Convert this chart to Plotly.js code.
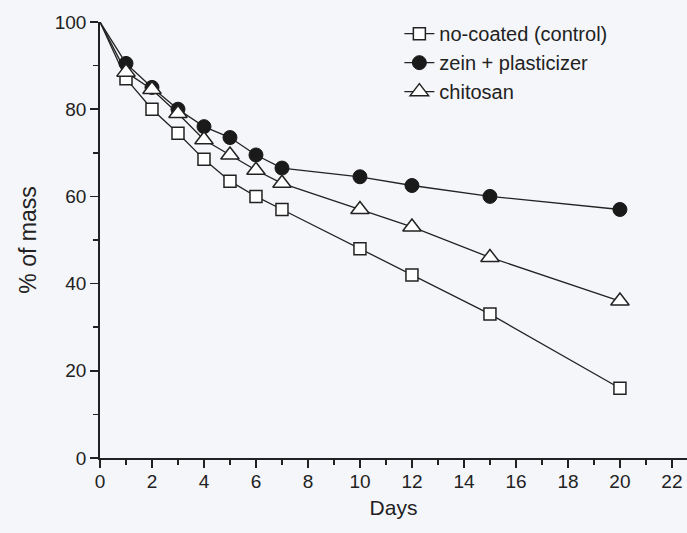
<!DOCTYPE html>
<html>
<head>
<meta charset="utf-8">
<script src="https://cdn.plot.ly/plotly-3.0.1.min.js"></script>
<style>html,body{margin:0;padding:0;background:#f5f6fa;}#chart{width:687px;height:533px;}</style>
</head>
<body>
<div id="chart"></div>
<script>
const days = [0, 1, 2, 3, 4, 5, 6, 7, 10, 12, 15, 20];
const control = [100, 87, 80, 74.5, 68.5, 63.5, 60, 57, 48, 42, 33, 16];
const zein = [100, 90.5, 85, 80, 76, 73.5, 69.5, 66.5, 64.5, 62.5, 60, 57];
const chitosan = [100, 88.5, 84.5, 79, 73, 69.5, 66, 63, 57, 53, 46, 36];
const seriesNames = ['no-coated (control)', 'zein + plasticizer', 'chitosan'];
const xTicks = [0, 2, 4, 6, 8, 10, 12, 14, 16, 18, 20, 22];
const yTicks = [0, 20, 40, 60, 80, 100];

const lineStyle = {color: '#222', width: 1.3};
const markers = [
  {symbol: 'square', size: 12, color: 'white', line: {color: '#222', width: 1.5}},
  {symbol: 'circle', size: 14, color: '#1a1a1a', line: {color: '#1a1a1a', width: 1}},
  {symbol: 'triangle-up', size: 16, color: 'white', line: {color: '#222', width: 1.5}}
];
const series = [control, zein, chitosan];

const traces = [];
// the starting point (day 0) is drawn without a marker in the original:
// segment from day 0 to day 1 as a plain line, then the marked series from day 1 on
series.forEach((vals, i) => {
  traces.push({x: days.slice(0, 2), y: vals.slice(0, 2), mode: 'lines', line: lineStyle,
               showlegend: false, cliponaxis: false, hoverinfo: 'skip'});
});
series.forEach((vals, i) => {
  traces.push({x: days.slice(1), y: vals.slice(1), name: seriesNames[i], mode: 'lines+markers',
               line: lineStyle, marker: markers[i], cliponaxis: false});
});

const font = {family: 'Liberation Sans, Arial, sans-serif', color: '#222'};
const layout = {
  width: 687, height: 533,
  margin: {l: 100, r: 0, t: 22, b: 75},
  paper_bgcolor: '#f5f6fa', plot_bgcolor: '#f5f6fa',
  font: font,
  showlegend: true,
  legend: {x: 0.51, y: 1.018, xanchor: 'left', yanchor: 'top', bgcolor: 'rgba(0,0,0,0)',
           font: {family: font.family, size: 20, color: '#222'}, tracegroupgap: 0},
  xaxis: {
    range: [0, 22.58], tickvals: xTicks, ticktext: xTicks.map(String),
    ticks: 'outside', ticklen: 8, tickwidth: 1.5, tickcolor: '#222', ticklabelstandoff: -3,
    minor: {dtick: 1, tick0: 0, ticks: 'outside', ticklen: 5, tickwidth: 1.5, tickcolor: '#222', showgrid: false},
    showline: true, linecolor: '#222', linewidth: 1.8, showgrid: false, zeroline: false,
    tickfont: {size: 19, color: '#222'},
    title: {text: 'Days', font: {size: 21, color: '#222'}, standoff: 10}
  },
  yaxis: {
    range: [0, 100], tickvals: yTicks, ticktext: yTicks.map(String),
    ticks: 'outside', ticklen: 8, tickwidth: 1.5, tickcolor: '#222',
    minor: {dtick: 10, tick0: 0, ticks: 'outside', ticklen: 5, tickwidth: 1.5, tickcolor: '#222', showgrid: false},
    showline: true, linecolor: '#222', linewidth: 1.8, showgrid: false, zeroline: false,
    tickfont: {size: 19, color: '#222'},
    title: {text: '% of mass', font: {size: 23, color: '#222'}, standoff: 12}
  }
};
Plotly.newPlot('chart', traces, layout, {displayModeBar: false, staticPlot: true});
</script>
</body>
</html>
